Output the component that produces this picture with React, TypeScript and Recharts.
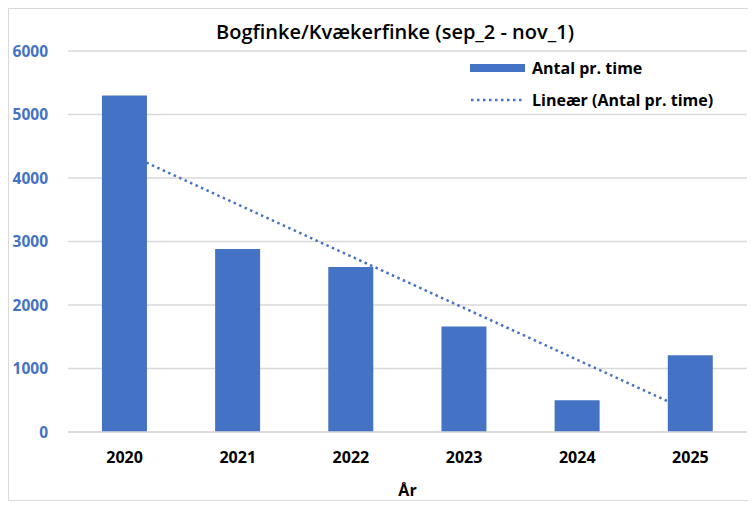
import { ComposedChart, Bar, Line, XAxis, YAxis, CartesianGrid, Label } from 'recharts';

const years = ['2020', '2021', '2022', '2023', '2024', '2025'];
const antal = [5300, 2880, 2600, 1660, 500, 1210];
// Excel linear trendline, read at its two ends
const trend = [4400, null, null, null, null, 320];
const yTicks = [0, 1000, 2000, 3000, 4000, 5000, 6000];
const seriesNames = ['Antal pr. time', 'Lineær (Antal pr. time)'];

const BLUE = '#4472C4';
const GRID = '#d9d9d9';
const FONT = '"Open Sans", "Liberation Sans", sans-serif';
const DOTS = '2.5 3.5';

const data = years.map((year, i) => ({ year, antal: antal[i], trend: trend[i] }));

function LegendBox() {
  return (
    <div
      style={{
        position: 'absolute',
        left: 461,
        top: 43,
        fontFamily: FONT,
        fontWeight: 700,
        fontSize: 16,
        color: '#000',
      }}
    >
      {seriesNames.map((name, i) => (
        <div key={name} style={{ display: 'flex', alignItems: 'center', height: 32 }}>
          <svg width={62} height={10} style={{ flexShrink: 0 }}>
            {i === 0 ? (
              <rect x={0} y={1} width={55} height={8} fill={BLUE} />
            ) : (
              <line x1={1} y1={5} x2={55} y2={5} stroke={BLUE} strokeWidth={2.5} strokeDasharray={DOTS} />
            )}
          </svg>
          <span style={{ whiteSpace: 'nowrap' }}>{name}</span>
        </div>
      ))}
    </div>
  );
}

export default function App() {
  return (
    <div
      style={{
        position: 'relative',
        width: 741,
        height: 493,
        border: `1px solid ${GRID}`,
        boxSizing: 'border-box',
        background: '#fff',
      }}
    >
      <ComposedChart
        width={739}
        height={491}
        data={data}
        margin={{ top: 42, right: 1, bottom: 0, left: 0 }}
        barCategoryGap="30%"
      >
        <CartesianGrid vertical={false} stroke={GRID} strokeWidth={1.5} />
        <XAxis
          dataKey="year"
          height={68}
          axisLine={{ stroke: GRID, strokeWidth: 1.5 }}
          tickLine={false}
          tickSize={0}
          tickMargin={20}
          tick={{ fill: '#000', fontFamily: FONT, fontWeight: 700, fontSize: 16 }}
        >
          <Label
            value="År"
            position="insideBottom"
            offset={4}
            style={{ fill: '#000', fontFamily: FONT, fontWeight: 700, fontSize: 16 }}
          />
        </XAxis>
        <YAxis
          width={59}
          domain={[0, 6000]}
          ticks={yTicks}
          axisLine={false}
          tickLine={false}
          tickSize={0}
          tickMargin={20}
          tick={{ fill: BLUE, fontFamily: FONT, fontWeight: 700, fontSize: 15.5 }}
        />
        <Line
          dataKey="trend"
          name={seriesNames[1]}
          stroke={BLUE}
          strokeWidth={2.5}
          strokeDasharray={DOTS}
          dot={false}
          activeDot={false}
          connectNulls
          isAnimationActive={false}
          zIndex={100}
        />
        <Bar dataKey="antal" name={seriesNames[0]} fill={BLUE} isAnimationActive={false} />
      </ComposedChart>
      <div
        style={{
          position: 'absolute',
          left: 386,
          top: 22,
          transform: 'translate(-50%, -50%)',
          whiteSpace: 'nowrap',
          fontFamily: FONT,
          fontWeight: 600,
          fontSize: 20,
          color: '#000',
        }}
      >
        Bogfinke/Kvækerfinke (sep_2 - nov_1)
      </div>
      <LegendBox />
    </div>
  );
}
